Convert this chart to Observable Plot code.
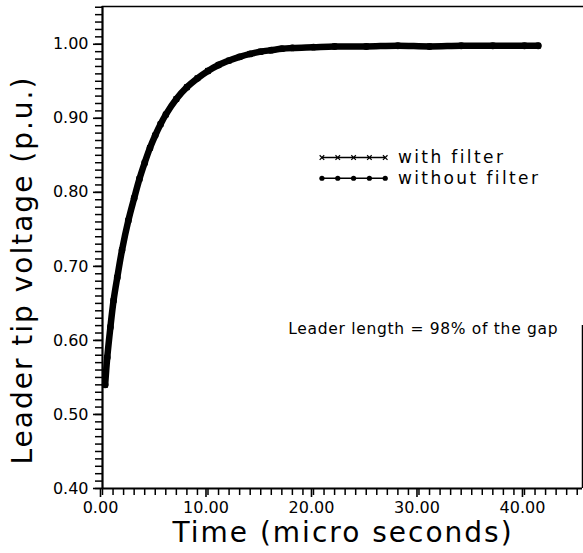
<!DOCTYPE html>
<html>
<head>
<meta charset="utf-8">
<script src="https://cdn.jsdelivr.net/npm/d3@7"></script>
<script src="https://cdn.jsdelivr.net/npm/@observablehq/plot@0.6"></script>
<style>
  html, body { margin: 0; padding: 0; background: #fff; }
  #chart svg { display: block; }
</style>
</head>
<body>
<div id="chart"></div>
<script>
// Time (micro seconds)
const time = [0.25, 0.45, 0.75, 1.05, 1.4, 1.85, 2.45, 3.0, 3.5, 4.0, 4.5, 5.0, 5.5, 6.0, 7.0, 8.0, 9.0, 10.0, 11.0, 12.0, 13.0, 14.0, 15.0, 16.0, 17.0, 18.0, 20.0, 22.0, 25.0, 28.0, 31.0, 34.0, 37.0, 40.0, 41.3];
// Leader tip voltage (p.u.)
const withoutFilter = [0.540, 0.577, 0.618, 0.654, 0.685, 0.722, 0.762, 0.792, 0.818, 0.840, 0.860, 0.877, 0.892, 0.905, 0.926, 0.942, 0.954, 0.964, 0.972, 0.978, 0.983, 0.987, 0.990, 0.992, 0.994, 0.995, 0.996, 0.997, 0.997, 0.998, 0.997, 0.998, 0.998, 0.998, 0.998];
const withFilter    = [0.540, 0.577, 0.618, 0.654, 0.685, 0.722, 0.762, 0.792, 0.818, 0.840, 0.860, 0.877, 0.892, 0.905, 0.926, 0.942, 0.954, 0.964, 0.972, 0.978, 0.983, 0.987, 0.990, 0.992, 0.994, 0.995, 0.996, 0.997, 0.997, 0.998, 0.997, 0.998, 0.998, 0.998, 0.998];

const seriesNames = ["with filter", "without filter"];
const xMajorTicks = [0, 10, 20, 30, 40];
const yMajorTicks = [0.40, 0.50, 0.60, 0.70, 0.80, 0.90, 1.00];
const xTitle = "Time (micro seconds)";
const yTitle = "Leader tip voltage (p.u.)";
const note = "Leader length = 98% of the gap";

const withoutData = time.map((t, i) => ({t, v: withoutFilter[i]}));
const withData = time.map((t, i) => ({t, v: withFilter[i]}));
const xMinor = d3.range(0, 46, 1);
const yMinor = d3.range(40, 106).map(d => d / 100);

// legend rows (annotation positions in data units)
const legendRows = [
  {name: seriesNames[0], v: 0.847},
  {name: seriesNames[1], v: 0.819}
];
const legendSample = legendRows.flatMap(r => d3.range(5).map(k => ({name: r.name, v: r.v, t: 20.8 + k * 1.5})));

const font = "DejaVu Sans, Verdana, sans-serif";

const chart = Plot.plot({
  width: 583,
  height: 553,
  marginLeft: 102,
  marginRight: 1,
  marginTop: 6,
  marginBottom: 65,
  style: {fontFamily: font, background: "#fff", color: "#000"},
  x: {domain: [0, 45.5], label: null},
  y: {domain: [0.40, 1.051], label: null},
  marks: [
    Plot.frame({anchor: "top", stroke: "#000", strokeWidth: 1.5}),
    Plot.ruleX([45.5], {y1: 0.40, y2: 0.62, stroke: "#000", strokeWidth: 1.5}),
    Plot.axisX({ticks: xMinor, tickSize: 7, tickFormat: () => "", strokeWidth: 1.5, label: null}),
    Plot.axisX({ticks: xMajorTicks, tickSize: 9, tickPadding: 4, tickFormat: d3.format(".2f"), fontSize: 16, strokeWidth: 1.6, dx: -2, label: null}),
    Plot.axisY({ticks: yMinor, tickSize: 7, tickFormat: () => "", strokeWidth: 1.5, label: null}),
    Plot.axisY({ticks: yMajorTicks, tickSize: 9, tickPadding: 5, tickFormat: d3.format(".2f"), fontSize: 16, strokeWidth: 1.6, label: null}),
    Plot.ruleY([0.40], {stroke: "#000", strokeWidth: 2.2}),
    Plot.ruleX([0], {stroke: "#000", strokeWidth: 2.2}),
    // without filter: thick line with dots
    Plot.line(withoutData, {x: "t", y: "v", stroke: "#000", strokeWidth: 6.5, curve: "catmull-rom"}),
    Plot.dot(withoutData, {x: "t", y: "v", r: 3.4, fill: "#000"}),
    // with filter: thin line with x marks
    Plot.line(withData, {x: "t", y: "v", stroke: "#000", strokeWidth: 1.5, curve: "catmull-rom"}),
    Plot.dot(withData, {x: "t", y: "v", r: 2.5, symbol: "times", stroke: "#000", strokeWidth: 1.2}),
    // legend
    Plot.line(legendSample, {x: "t", y: "v", z: "name", stroke: "#000", strokeWidth: 1.6}),
    Plot.dot(legendSample.filter(d => d.name === seriesNames[0]), {x: "t", y: "v", symbol: "times", r: 2.2, stroke: "#000", strokeWidth: 1.2}),
    Plot.dot(legendSample.filter(d => d.name === seriesNames[1]), {x: "t", y: "v", r: 2.6, fill: "#000"}),
    Plot.text(legendRows, {x: 28.0, y: "v", text: "name", textAnchor: "start", fontSize: 17, fill: "#000"}),
    // note
    Plot.text([note], {x: 17.6, y: 0.615, text: d => d, textAnchor: "start", fontSize: 15.5, fill: "#000"}),
    // axis titles
    Plot.text([xTitle], {x: 22.8, y: 0.40, dy: 45, text: d => d, textAnchor: "middle", fontSize: 28, fill: "#000"}),
    Plot.text([yTitle], {x: -7.5, y: 0.695, text: d => d, rotate: -90, textAnchor: "middle", fontSize: 28, fill: "#000"})
  ]
});

const spacing = new Map([
  [xTitle, "2px"], [yTitle, "2px"],
  [seriesNames[0], "2.4px"], [seriesNames[1], "2.4px"],
  [note, "0.7px"]
]);
chart.querySelectorAll("text").forEach(t => {
  const s = spacing.get(t.textContent);
  if (s) t.style.letterSpacing = s;
});
document.getElementById("chart").appendChild(chart);
</script>
</body>
</html>
